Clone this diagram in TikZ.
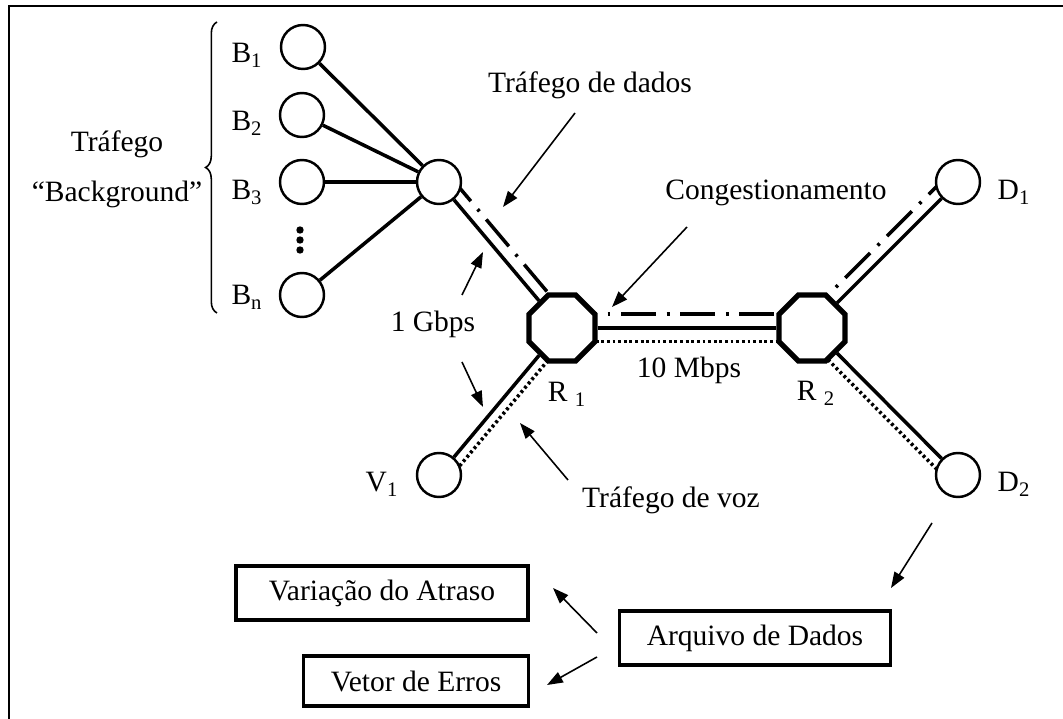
\documentclass[tikz,border=0pt]{standalone}
\usepackage{fontspec}
\setmainfont{Liberation Serif}
\usetikzlibrary{shapes.geometric,decorations.pathreplacing,backgrounds,calc,arrows.meta}

\begin{document}
\begin{tikzpicture}[x=0.02cm,y=-0.02cm,
  font=\fontsize{16.8}{20}\selectfont,
  host/.style={circle,draw,line width=1.4pt,fill=white,minimum size=0.88cm,inner sep=0pt},
  router/.style={regular polygon,regular polygon sides=8,draw,line width=3pt,fill=white,minimum size=1.43cm,inner sep=0pt},
  result/.style={draw,line width=2pt,inner sep=0pt},
  lbl/.style={anchor=base,inner sep=0pt},
  wire/.style={line width=2pt},
  datawire/.style={line width=2pt,dash pattern=on 20pt off 6pt on 1.6pt off 6pt},
  voicewire/.style={line width=2pt,dash pattern=on 1.6pt off 1.6pt},
  pointer/.style={line width=0.9pt,-{Triangle[length=9pt,width=6.5pt]}}]

\useasboundingbox (0,0) rectangle (1063,719);
\draw[line width=1.3pt] (9,740) -- (9,6) -- (1080,6);

\node[host] (B1) at (303,47) {};
\node[host] (B2) at (302,115) {};
\node[host] (B3) at (302,182) {};
\node[host] (Bn) at (302,295) {};
\node[host] (hub) at (439,182) {};
\node[host] (V1) at (439,475) {};
\node[host] (D1) at (958,182) {};
\node[host] (D2) at (958,475) {};
\node[router] (R1) at (562,328) {};
\node[router] (R2) at (812,328) {};

\foreach \y in {230,240,250}
	\fill (300,\y) circle (2.1pt);

\node[lbl] (lB1) at (247,63) {B\textsubscript{1}};
\node[lbl] (lB2) at (247,131) {B\textsubscript{2}};
\node[lbl] (lB3) at (247,200) {B\textsubscript{3}};
\node[lbl] (lBn) at (247,305) {B\textsubscript{n}};
\node[lbl] (trafego) at (117,152) {Tráfego};
\node[lbl] (background) at (117,202) {“Background”};
\node[lbl] (dados) at (590,93) {Tráfego de dados};
\node[lbl] (congest) at (776,200) {Congestionamento};
\node[lbl] (gbps) at (433,332) {1 Gbps};
\node[lbl] (mbps) at (689,378) {10 Mbps};
\node[lbl] (lR1) at (567,402) {R \textsubscript{1}};
\node[lbl] (lR2) at (816,401) {R \textsubscript{2}};
\node[lbl] (lV1) at (382,492) {V\textsubscript{1}};
\node[lbl] (lD1) at (1014,200) {D\textsubscript{1}};
\node[lbl] (lD2) at (1014,492) {D\textsubscript{2}};
\node[lbl] (voz) at (671,508) {Tráfego de voz};

\node[result,minimum width=5.84cm,minimum height=1.08cm] (atraso) at (382,593) {Variação do Atraso};
\node[result,minimum width=4.5cm,minimum height=1.0cm] (erros) at (416,681) {Vetor de Erros};
\node[result,minimum width=5.42cm,minimum height=1.08cm] (arquivo) at (755,638) {Arquivo de Dados};

\coordinate (braceBot) at (217,313);
\coordinate (braceTop) at (217,22);
\draw[line width=0.9pt,decorate,decoration={brace,amplitude=6.5pt}] (braceBot) -- (braceTop);

\begin{pgfonlayer}{background}
\foreach \from/\to in {B1/hub, B2/hub, B3/hub, Bn/hub, hub/R1, R1/R2, R1/V1, R2/D1, R2/D2}
	\draw[wire] (\from) -- (\to);
\draw[datawire] ($(hub)!0.24cm!90:(R1)$) -- ($(R1)!0.24cm!-90:(hub)$);
\draw[datawire] ($(R1)!0.28cm!90:(R2)$) -- ($(R2)!0.28cm!-90:(R1)$);
\draw[datawire] ($(R2)!0.24cm!90:(D1)$) -- ($(D1)!0.24cm!-90:(R2)$);
\draw[voicewire] ($(R1)!0.27cm!-90:(R2)$) -- ($(R2)!0.27cm!90:(R1)$);
\draw[voicewire] ($(R1)!0.2cm!90:(V1)$) -- ($(V1)!0.2cm!-90:(R1)$);
\draw[voicewire] ($(R2)!0.22cm!-90:(D2)$) -- ($(D2)!0.22cm!90:(R2)$);
\end{pgfonlayer}

\coordinate (dadosfrom) at (575,113);
\coordinate (dadosto) at (503,207);
\coordinate (congestfrom) at (687,227);
\coordinate (congestto) at (612,307);
\coordinate (gbpsup) at (462,295);
\coordinate (gbpsupto) at (483,252);
\coordinate (gbpsdown) at (462,362);
\coordinate (gbpsdownto) at (483,407);
\coordinate (vozfrom) at (568,480);
\coordinate (vozto) at (520,423);
\coordinate (Dfrom) at (932,523);
\coordinate (arquivoto) at (891,588);
\coordinate (atrasofrom) at (597,633);
\coordinate (atrasoto) at (553,588);
\coordinate (errosfrom) at (597,657);
\coordinate (errosto) at (547,685);

\foreach \from/\to in {dadosfrom/dadosto, congestfrom/congestto, gbpsup/gbpsupto, gbpsdown/gbpsdownto, vozfrom/vozto, Dfrom/arquivoto, atrasofrom/atrasoto, errosfrom/errosto}
	\draw[pointer] (\from) -- (\to);

\end{tikzpicture}
\end{document}
